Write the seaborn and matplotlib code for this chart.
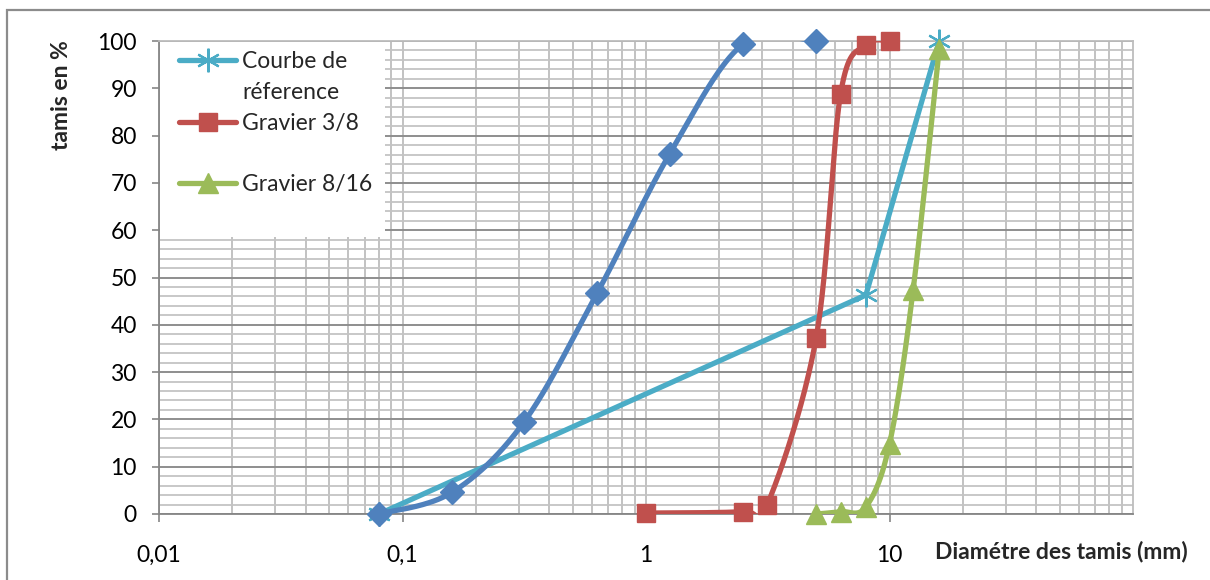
import numpy as np
import matplotlib
matplotlib.use("Agg")
import matplotlib.pyplot as plt
import seaborn as sns
from matplotlib.lines import Line2D
from matplotlib.patches import Rectangle
from matplotlib.ticker import FixedLocator, NullFormatter

# Sieve openings (mm) and cumulative passing (%)
sable_d = [0.08, 0.16, 0.315, 0.63, 1.25, 2.5, 5]
sable_p = [0, 4.6, 19.4, 46.7, 76.1, 99.3, 100]

ref_d = [0.08, 8, 16]
ref_p = [0, 46.3, 100]

g38_d = [1, 2.5, 3.15, 5, 6.3, 8, 10]
g38_p = [0.2, 0.5, 2.0, 37.3, 88.9, 99.2, 100]

g816_d = [5, 6.3, 8, 10, 12.5, 16]
g816_p = [0, 0.5, 1.5, 14.8, 47.3, 98.3]

x_ticks = [0.01, 0.1, 1, 10]
x_tick_labels = ["0,01", "0,1", "1", "10"]
y_ticks = list(range(0, 101, 10))

C_SABLE = "#4F81BD"
C_REF = "#4BACC6"
C_G38 = "#C0504D"
C_G816 = "#9BBB59"

sns.set_theme(style="white")
plt.rcParams["font.family"] = ["Lato", "DejaVu Sans"]
FS = 16.5
LW = 3.8


def smooth(xs, ys, n=40):
    """Bezier smoothing through the points in (log10 x, y) space."""
    pts = np.column_stack([np.log10(xs), np.asarray(ys, float)])
    out = []
    for i in range(len(pts) - 1):
        p0 = pts[i - 1] if i > 0 else pts[i]
        p1, p2 = pts[i], pts[i + 1]
        p3 = pts[i + 2] if i + 2 < len(pts) else pts[i + 1]
        c1 = p1 + (p2 - p0) / 6
        c2 = p2 - (p3 - p1) / 6
        t = np.linspace(0, 1, n)[:, None]
        seg = (1 - t) ** 3 * p1 + 3 * (1 - t) ** 2 * t * c1 + 3 * (1 - t) * t ** 2 * c2 + t ** 3 * p2
        out.append(seg if i == 0 else seg[1:])
    s = np.vstack(out)
    return 10 ** s[:, 0], s[:, 1]


fig = plt.figure(figsize=(12.1, 5.8), dpi=100)
ax = fig.add_axes([159 / 1210, 66 / 580, 974 / 1210, 473 / 580])
ax.set_xscale("log")
ax.set_xlim(0.01, 100)
ax.set_ylim(0, 100)

# grid
ax.xaxis.set_major_locator(FixedLocator(x_ticks))
ax.xaxis.set_minor_locator(FixedLocator([m * 10.0 ** e for e in range(-2, 2) for m in range(2, 10)]))
ax.xaxis.set_minor_formatter(NullFormatter())
ax.set_xticklabels(x_tick_labels)
ax.yaxis.set_major_locator(FixedLocator(y_ticks))
ax.yaxis.set_minor_locator(FixedLocator([v for v in range(0, 101, 2) if v % 10]))
ax.grid(True, axis="x", which="both", color="#BDBDBD", lw=1.3, zorder=0)
ax.grid(True, axis="y", which="minor", color="#C4C4C4", lw=1.3, zorder=0)
ax.grid(True, axis="y", which="major", color="#8E8E8E", lw=1.4, zorder=0)
ax.set_axisbelow(True)

# reference line (straight segments)
sns.lineplot(x=ref_d, y=ref_p, ax=ax, color=C_REF, lw=LW, sort=False, estimator=None, zorder=3)
ax.plot(ref_d, ref_p, ls="none", marker=(6, 2, 0), ms=17, mec=C_REF, mew=1.6, zorder=3.1, clip_on=False)

for d, p, c, mk, ms in [
    (g38_d, g38_p, C_G38, "s", 13.5),
    (g816_d, g816_p, C_G816, "^", 15),
    (sable_d, sable_p, C_SABLE, "D", 12.5),
]:
    sx, sy = smooth(d, p)
    sns.lineplot(x=sx, y=sy, ax=ax, color=c, lw=LW, sort=False, estimator=None, zorder=4)
    ax.plot(d, p, ls="none", marker=mk, ms=ms, mfc=c, mec=c, zorder=4.1, clip_on=False)

# axes styling
for side in ["left", "bottom"]:
    ax.spines[side].set_color("#868686")
    ax.spines[side].set_linewidth(1.3)
for side in ["top", "right"]:
    ax.spines[side].set_color("#BDBDBD")
    ax.spines[side].set_linewidth(1.3)

ax.tick_params(axis="y", which="major", left=True, direction="out", length=5, width=1.2,
               color="#868686", pad=11, labelsize=FS, labelcolor="black")
ax.tick_params(axis="x", which="major", bottom=True, direction="out", length=6, width=1.2,
               color="#868686", pad=16, labelsize=FS, labelcolor="black")
ax.tick_params(axis="both", which="minor", length=0)

ax.text(-0.0996, 0.886, "tamis en %", transform=ax.transAxes, rotation=90,
        ha="center", va="center", fontsize=FS, fontweight="bold")
ax.text(0.797, -0.080, "Diamétre des tamis (mm)", transform=ax.transAxes,
        ha="left", va="center", fontsize=FS, fontweight="bold")

# legend on a white panel
ax.add_patch(Rectangle((0.001, 0.586), 0.231, 0.411, transform=ax.transAxes,
                       facecolor="white", edgecolor="none", zorder=2))
blank = Line2D([], [], color="none")
handles = [
    Line2D([], [], color=C_REF, lw=LW, marker=(6, 2, 0), ms=17, mec=C_REF, mew=1.6),
    blank,
    Line2D([], [], color=C_G38, lw=LW, marker="s", ms=13.5),
    blank,
    Line2D([], [], color=C_G816, lw=LW, marker="^", ms=15),
]
labels = ["Courbe de", "réference", "Gravier 3/8", "", "Gravier 8/16"]
leg = ax.legend(handles, labels, loc="upper left", bbox_to_anchor=(0.010, 1.0),
                frameon=False, fontsize=FS, handlelength=2.5, handletextpad=0.25,
                labelspacing=0.42, borderaxespad=0.15, borderpad=0.3)
leg.set_zorder(6)

# outer chart border
fig.add_artist(Rectangle((7 / 1210, -0.05), 1.1, (580 - 10) / 580 + 0.05,
                         transform=fig.transFigure, facecolor="none",
                         edgecolor="#8C8C8C", lw=1.6))

fig.savefig("out.png", dpi=100)
